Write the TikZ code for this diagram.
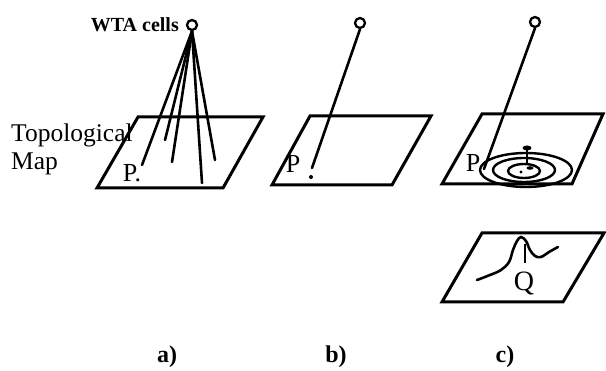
\documentclass[tikz,border=0pt]{standalone}
\usepackage{fontspec}
\setmainfont{Liberation Serif}
\begin{document}
\begin{tikzpicture}[x=1pt,y=-1pt,
  cell/.style={circle,draw,line width=2.3pt,minimum size=10pt,inner sep=0pt},
  mapedge/.style={line width=3pt,line join=miter},
  wire/.style={line width=2.6pt,line cap=round},
  contour/.style={line width=2.4pt},
  lbl/.style={font=\fontsize{26}{26}\selectfont,inner sep=0pt},
  sublabel/.style={font=\bfseries\fontsize{24}{24}\selectfont,inner sep=0pt}]
\useasboundingbox (0,0) rectangle (606,371);
% ---------- panel a ----------
\node[cell] (ca) at (192,25) {};
\node[anchor=east,inner sep=0pt,font=\bfseries\fontsize{20}{20}\selectfont] (wta) at (179,25) {WTA cells};
\node[lbl,anchor=west,font=\fontsize{25.5}{26}\selectfont] (topo) at (11,135) {Topological};
\node[lbl,anchor=west,font=\fontsize{25.5}{26}\selectfont] (map) at (11,164) {Map};
\coordinate (a1) at (138,117); \coordinate (a2) at (263,117);
\coordinate (a3) at (223,188); \coordinate (a4) at (97,188);
\draw[mapedge] (a1) -- (a2) -- (a3) -- (a4) -- cycle;
\node[lbl] (pa) at (132,173) {P.};
\coordinate (ea1) at (142,165); \coordinate (ea2) at (165,140);
\coordinate (ea3) at (172,162); \coordinate (ea4) at (202,183);
\coordinate (ea5) at (215,160);
\foreach \e in {ea1,ea2,ea3,ea4,ea5} \draw[wire] (ca.south) -- (\e);
\node[sublabel] (la) at (167,357) {a)};
% ---------- panel b ----------
\node[cell] (cb) at (360,23) {};
\coordinate (b1) at (310,116); \coordinate (b2) at (431,116);
\coordinate (b3) at (392,185); \coordinate (b4) at (272,185);
\draw[mapedge] (b1) -- (b2) -- (b3) -- (b4) -- cycle;
\node[lbl] (pb) at (293,164) {P};
\coordinate (eb) at (312,168);
\draw[wire] (cb.south) -- (eb);
\fill (311,177) circle (2);
\node[sublabel] (lb) at (336,357) {b)};
% ---------- panel c ----------
\node[cell] (cc) at (535,22) {};
\coordinate (c1) at (482,114); \coordinate (c2) at (603,114);
\coordinate (c3) at (572,184); \coordinate (c4) at (442,184);
\draw[mapedge] (c1) -- (c2) -- (c3) -- (c4) -- cycle;
\node[lbl] (pc) at (473,163) {P};
\coordinate (ec) at (484,169);
\draw[wire] (cc.south) -- (ec);
\draw[contour] (526,170) ellipse [x radius=46, y radius=17];
\draw[contour] (524,170) ellipse [x radius=31, y radius=12];
\draw[contour] (524,171) ellipse [x radius=16, y radius=7];
\draw[line width=2pt] (527,148) -- (527,164);
\fill (527,148) ellipse [x radius=4.5, y radius=2.5];
\fill (521,172) circle (1.6);
\fill (530,168) ellipse [x radius=3.5, y radius=1.8];
% lower map
\coordinate (d1) at (482,233); \coordinate (d2) at (604,233);
\coordinate (d3) at (563,302); \coordinate (d4) at (442,302);
\draw[mapedge] (d1) -- (d2) -- (d3) -- (d4) -- cycle;
\draw[line width=2.6pt,line cap=round] plot[smooth,tension=0.6] coordinates
  {(477,280) (490,275) (501,270) (509,262) (513,250) (517,241) (521,237) (526,241) (530,250) (535,256) (541,257) (549,252) (558,247)};
\draw[line width=2.2pt] (525,244) -- (525,263);
\node[lbl,font=\fontsize{28}{28}\selectfont] (q) at (524,284) {Q};
\node[sublabel] (lc) at (505,357) {c)};
\end{tikzpicture}
\end{document}
